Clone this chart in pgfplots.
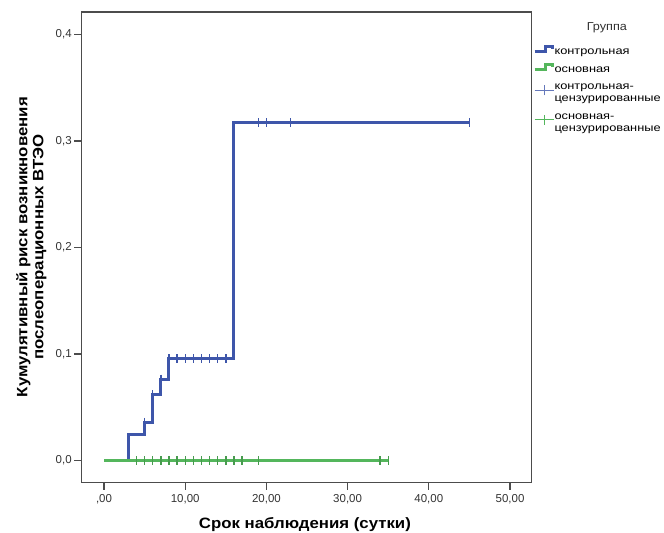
\documentclass[border=0pt]{standalone}
\usepackage{pgfplots}
\pgfplotsset{compat=1.18}
\usepackage{graphicx}
\usepackage{fontspec}
\setmainfont{Liberation Sans}
\definecolor{kmblue}{RGB}{62,86,170}
\definecolor{kmgreen}{RGB}{84,182,92}
\newcommand\lw[1]{\scalebox{1.22}[1]{#1}}
\newcommand\sth{\rule{0pt}{12.5bp}}
\newcommand\std{\rule[-5bp]{0pt}{5bp}}
\begin{document}
\begin{tikzpicture}
\path[use as bounding box] (0,0) rectangle (664bp,533bp);
\begin{axis}[
  at={(81.7bp,50.7bp)}, anchor=south west,
  scale only axis, width=450bp, height=470.3bp,
  xmin=-2.75, xmax=52.67, ymin=-0.0203, ymax=0.421,
  axis line style={draw=black!70, line width=1.2pt},
  xtick={0,10,20,30,40,50},
  xticklabels={{,00},{10,00},{20,00},{30,00},{40,00},{50,00}},
  ytick={0,0.1,0.2,0.3,0.4},
  yticklabels={{0,0},{0,1},{0,2},{0,3},{0,4}},
  xtick pos=bottom, ytick pos=left,
  tick align=outside, major tick length=7.5bp,
  tick style={black!70, line width=1.2pt},
  ticklabel style={font=\fontsize{11.5bp}{13bp}\selectfont, text=black!80},
  xticklabel style={yshift=-1bp},
  yticklabel style={xshift=1bp},
  ylabel={Кумулятивный риск возникновения\\послеоперационных ВТЭО},
  ylabel style={at={(axis description cs:-0.112,0.5)}, rotate=0, xscale=1.12, anchor=center, align=center,
    font=\fontsize{15bp}{16bp}\selectfont\bfseries},
  xlabel={Срок наблюдения (сутки)},
  xlabel style={at={(axis description cs:0.496,-0.09)}, anchor=center, xscale=1.12,
    font=\fontsize{15bp}{16bp}\selectfont\bfseries},
  legend style={at={(axis description cs:1.003,0.936)}, anchor=north west, draw=none, fill=none,
    font=\fontsize{10.5bp}{12bp}\selectfont, cells={align=left, anchor=west},
    inner xsep=0pt, inner ysep=0pt, row sep=3.5bp,
    nodes={inner xsep=0.5bp, inner ysep=0bp}},
  legend cell align=left,
  clip=false,
]
% control curve
\addplot[const plot, kmblue, line width=3bp,
  legend image code/.code={\draw[kmblue, line width=2.6bp] (0bp,-2.5bp) -- (11bp,-2.5bp) -- (11bp,2.5bp) -- (18bp,2.5bp) -- (18bp,0bp);}]
  coordinates {(0,0) (3,0.0241) (5,0.036) (6,0.0617) (7,0.0764) (8,0.0955) (16,0.317) (45,0.317)};
\addlegendentry{\sth\std\lw{контрольная}}
% main curve
\addplot[const plot, kmgreen, line width=3bp,
  legend image code/.code={\draw[kmgreen, line width=2.6bp] (0bp,-2.5bp) -- (11bp,-2.5bp) -- (11bp,2.5bp) -- (18bp,2.5bp) -- (18bp,0bp);}]
  coordinates {(0,0) (35,0)};
\addlegendentry{\sth\std\lw{основная}}
% control censored
\addplot[only marks, mark=|, mark size=4.5bp, mark options={kmblue, line width=1.4bp},
  legend image code/.code={\draw[kmblue!80, line width=0.9bp] (0bp,0bp) -- (19bp,0bp); \draw[kmblue!80, line width=0.9bp] (9.5bp,-5bp) -- (9.5bp,5bp);}]
  coordinates {(5,0.036) (6,0.0617) (7,0.0764) (8,0.0955) (9,0.0955) (10,0.0955) (11,0.0955) (12,0.0955) (13,0.0955) (14,0.0955) (15,0.0955) (19,0.317) (20,0.317) (23,0.317) (45,0.317)};
\addlegendentry{\sth\lw{контрольная-}\\\lw{цензурированные}\std}
% main censored
\addplot[only marks, mark=|, mark size=4.5bp, mark options={kmgreen!85!black, line width=1.4bp},
  legend image code/.code={\draw[kmgreen, line width=0.9bp] (0bp,0bp) -- (19bp,0bp); \draw[kmgreen, line width=0.9bp] (9.5bp,-5bp) -- (9.5bp,5bp);}]
  coordinates {(4,0) (5,0) (6,0) (7,0) (8,0) (9,0) (10,0) (11,0) (12,0) (13,0) (14,0) (15,0) (16,0) (17,0) (19,0) (34,0) (35,0)};
\addlegendentry{\sth\lw{основная-}\\\lw{цензурированные}\std}
\node[font=\fontsize{11.5bp}{13bp}\selectfont, text=black!80, xscale=1.1] at (axis description cs:1.167,0.966) {Группа};
\end{axis}
\end{tikzpicture}
\end{document}
